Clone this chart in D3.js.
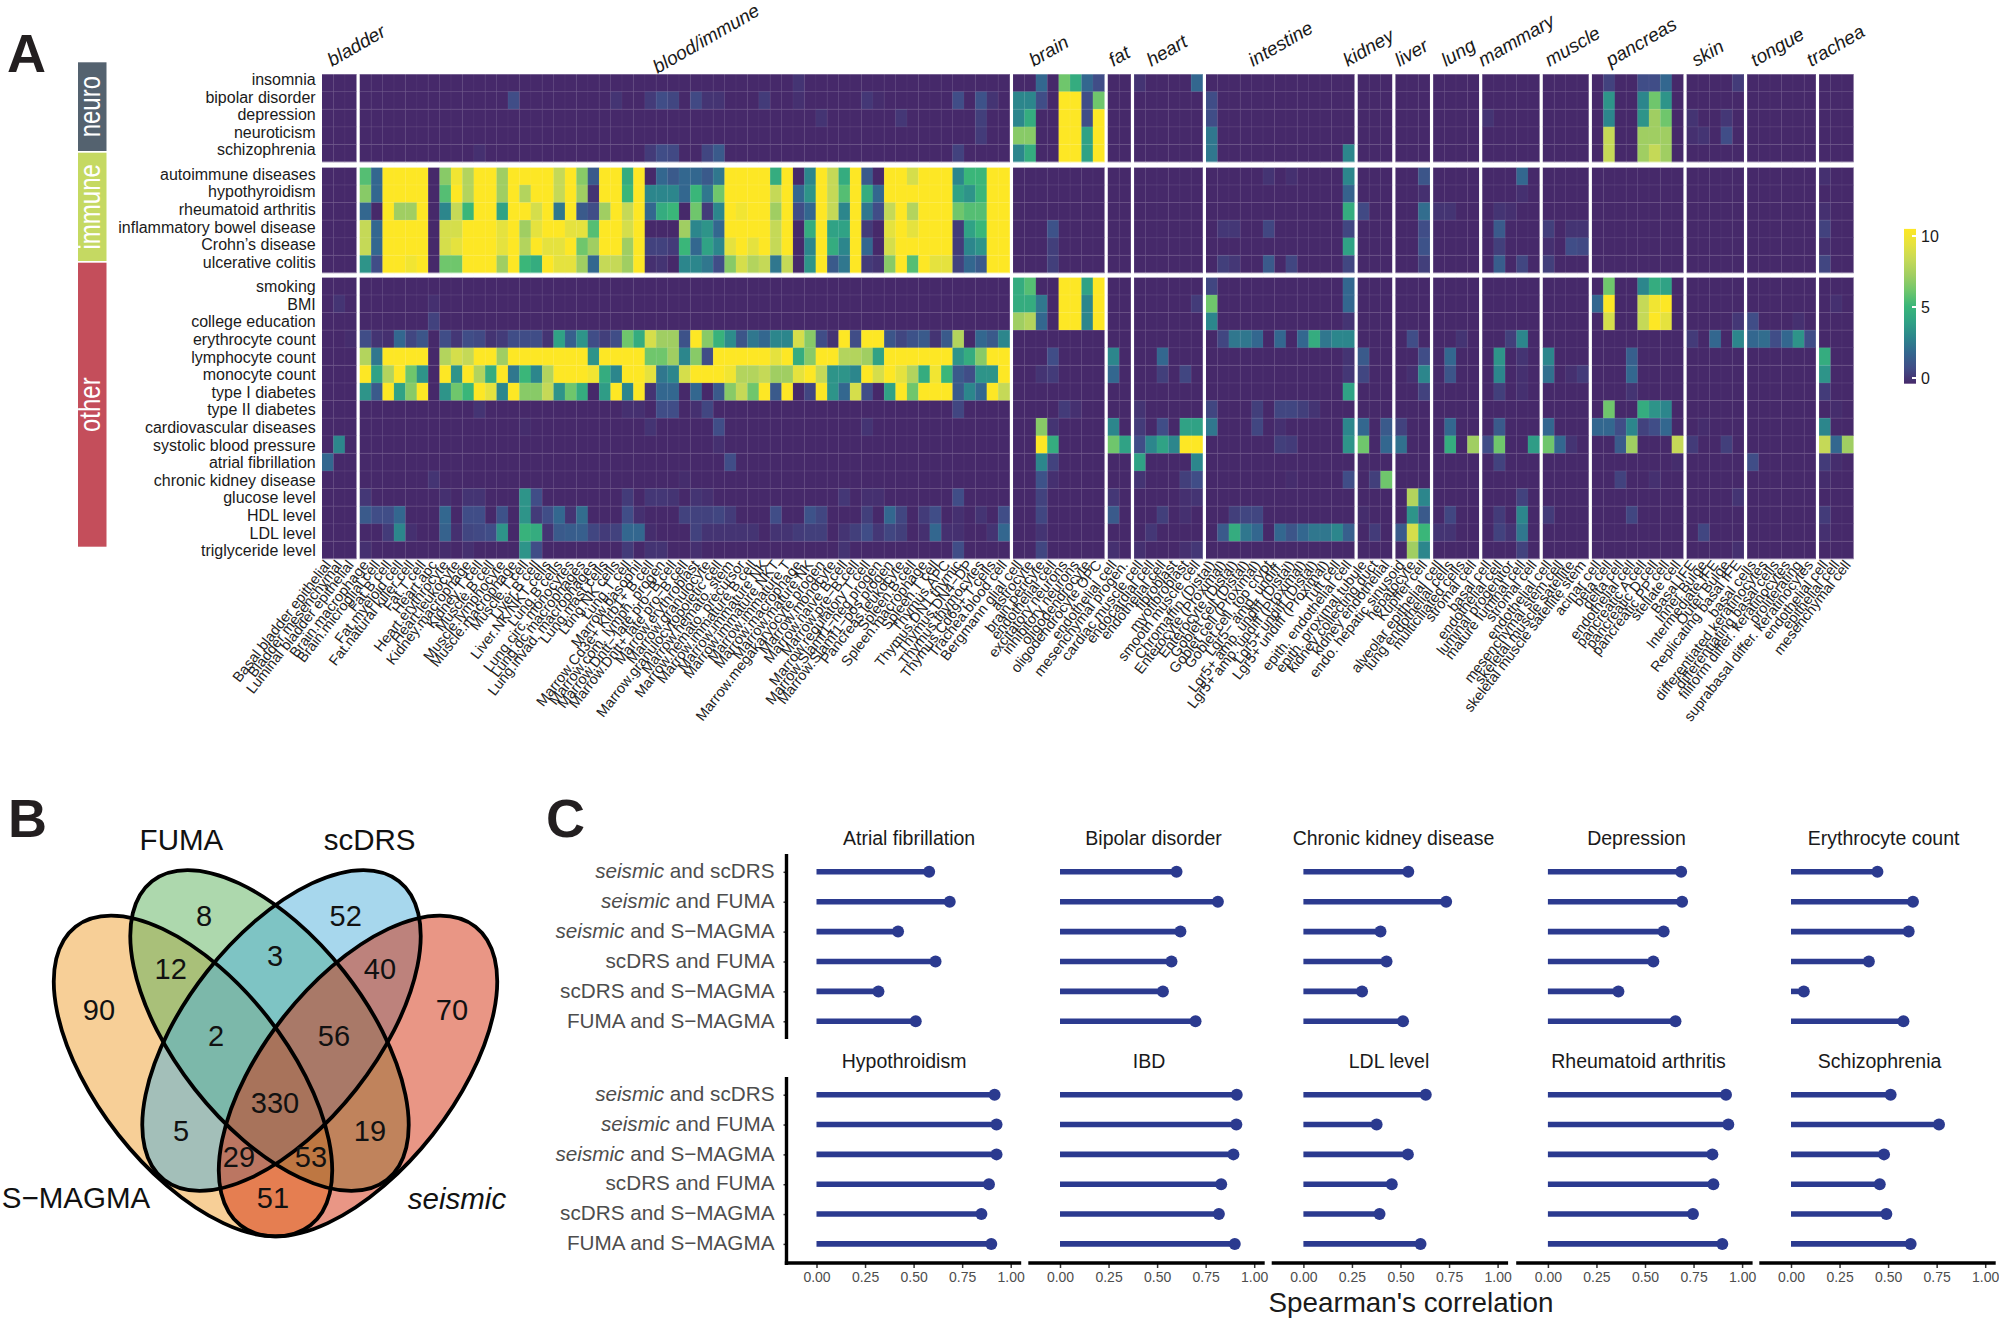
<!DOCTYPE html>
<html><head><meta charset="utf-8">
<script src="https://cdn.jsdelivr.net/npm/d3@7/dist/d3.min.js"></script>
<style>html,body{margin:0;padding:0;background:#fff}svg{display:block}text{font-family:"Liberation Sans",Arial,sans-serif}</style>
</head><body><svg id="c" width="1999" height="1318"></svg>
<script>
// ---------- Panel A data ----------
const tissues=["bladder","blood/immune","brain","fat","heart","intestine","kidney","liver","lung","mammary","muscle","pancreas","skin","tongue","trachea"];
const tissueLabelOffset=[-7,-27,-25,-6,-17,-27,-27,-13,-10,-28,-16,-27,-19,-26,-25];
const tissueLabelBase=[67,74,67,67,67,67,67,67,67,67,67,67,67,67,67];
const cellBladder=["Basal bladder epithelial","Bladder mesenchymal","Luminal bladder epithelial"];
const cellBlood=["Brain.macrophage","Brain.microglial cell","Fat.B cell","Fat.myeloid cell","Fat.natural killer cell","Fat.T cell","Heart.apc","Heart.erythrocyte","Heart.leukocyte","Kidney.macrophage","Kidney.T cell","Muscle.B cell","Muscle.lymphocyte","Muscle.macrophage","Muscle.T cell","Liver.B cell","Liver.NK/NKT cells","Lung.B cells","Lung.circ. monocytes","Lung.dc macrophages","Lung.invad. macrophages","Lung.mast cells","Lung.NK cells","Lung.T cell","Marrow.basophil","Marrow.Cd3e+ Klrb1+ B cell","Marrow.com. lymph. progen","Marrow.Dntt− late pro−B cell","Marrow.Dntt+ late pro−B cell","Marrow.erythroblast","Marrow.granulocyte","Marrow.granulocytopoietic cell","Marrow.hemato. stem","Marrow.hemato. precursor","Marrow.immature B cell","Marrow.immature NK","Marrow.immature NKT","Marrow.immature T","Marrow.macrophage","Marrow.mature NK","Marrow.megakaryocyte progen","Marrow.monocyte","Marrow.naive B cell","Marrow.pre−B cell","Marrow.regulatory T cell","Marrow.Slamf1−neg progen","Marrow.Slamf1−pos progen","Pancreas.leukocyte","Spleen.B cell","Spleen.macrophage","Spleen.T cell","Thymus.APC","Thymus.DN1 thymic","Thymus.DN4−DP","Thymus.thymocytes","Thymus.Cd69+ T cells","Trachea.blood cell"];
const cellBrain=["Bergmann glial cell","astrocyte","brain pericyte","endothelial cell","excitatory neurons","inhibitory neurons","oligodendrocyte","oligodendrocyte OPC"];
const cellFat=["endothelial cell","mesenchymal progen."];
const cellHeart=["cardiac muscle cell","endocardial cell","endothelial cell","fibroblast","myofibroblast","smooth muscle cell"];
const cellIntestine=["Chromaffin (Distal)","Enterocyte (Proximal)","Enterocyte (Distal)","Goblet cell (Distal)","Goblet cell (Proximal)","Goblet cell, top crypt","Lgr5− amp. undiff.","Lgr5+ amp. undiff (Distal)","Lgr5+ amp. undiff (Proximal)","Lgr5+ undiff (Distal)","Lgr5+ undiff (Proximal)","Tuft cell","epith. endothelial cell"];
const cellKidney=["epith. proximal tubule","kidney collecting duct","kidney endothelial"];
const cellLiver=["endo. hepatic sinusoid","hepatocyte","Kupffer cell"];
const cellLung=["alveolar epithelial cell","lung endothelial cells","multiciliated cells","stromal cell"];
const cellMammary=["basal cell","endothelial cell","luminal progenitor","mature luminal cell","stromal cell"];
const cellMuscle=["endothelial cell","mesenchymal stem cell","skeletal muscle satellite","skeletal muscle satellite stem"];
const cellPancreas=["acinar cell","beta cell","delta cell","endothelial cell","pancreatic A cell","pancreatic D cell","pancreatic PP cell","stellate cell"];
const cellSkin=["Basal IFE","Inner Bulge","Intermediate IFE","Outer Bulge","Replicating basal IFE"];
const cellTongue=["basal cells","differentiated keratinocytes","differentiating basal cells","filiform differ. keratinocytes","proliferating","suprabasal differ. keratinocytes"];
const cellTrachea=["endothelial cell","epithelial cell","mesenchymal cell"];
const cellGroups=[cellBladder,cellBlood,cellBrain,cellFat,cellHeart,cellIntestine,cellKidney,cellLiver,cellLung,cellMammary,cellMuscle,cellPancreas,cellSkin,cellTongue,cellTrachea];

const traitGroups=["neuro","immune","other"];
const traitsNeuro=["insomnia","bipolar disorder","depression","neuroticism","schizophrenia"];
const traitsImmune=["autoimmune diseases","hypothyroidism","rheumatoid arthritis","inflammatory bowel disease","Crohn’s disease","ulcerative colitis"];
const traitsOther=["smoking","BMI ","college education","erythrocyte count","lymphocyte count","monocyte count","type I diabetes","type II diabetes","cardiovascular diseases","systolic blood pressure","atrial fibrillation","chronic kidney disease","glucose level","HDL level","LDL level","triglyceride level"];

// each row: bladder, blood, brain, fat, heart, intestine, kidney, liver, lung, mammary, muscle, pancreas, skin, tongue, trachea
const insomnia=[[0,0,0],
[0,0,0,0,0,0,0,0,0,0, 0,0,0,0,0,0,0,0,0,0, 0,0,0,0,0,0,0,0,0,0, 0,0,0,0,0,0,0,0,.3,0, 0,0,0,0,0,0,0,0,0,0, 0,0,0,0,0,0,0],
[0,0,2,0,6,4.5,2,1],[0,0],[.3,0,0,0,0,2],[0,0,0,0,0,0,0,0,0,0,0,0,0],[0,0,0],[0,0,0],[0,0,0,0],[0,0,0,0,0],[0,0,0,0],[0,.7,0,0,1,1,2,0],[0,0,0,0,.5],[0,0,0,0,0,0],[0,0,0]];
const bipolar=[[0,0,0],
[0,0,0,0,0,0,0,0,0,0, 0,0,0,1,0,0,0,0,0,0, 0,0,.3,0,0,.5,1,.8,0,.9, .3,.3,0,0,0,.5,0,0,.2,0, 0,0,0,0,.4,.1,0,0,0,0, 0,0,1,0,1.2,.3,0],
[3,3,1,0,10,10,1,6],[0,0],[0,0,0,0,0,0],[1,0,0,0,0,0,0,0,0,0,0,0,0],[0,0,0],[0,0,0],[0,0,0,0],[0,0,0,0,0],[0,0,0,0],[0,3.5,0,0,3,6,3.5,0],[0,0,0,0,0],[0,0,0,0,0,0],[0,0,0]];
const depression=[[0,0,0],
[0,0,0,0,0,0,0,0,0,0, 0,0,0,0,0,0,0,0,0,0, 0,0,0,0,0,0,0,0,0,0, 0,0,0,0,0,0,0,0,0,0, .3,0,0,0,0,0,0,.4,0,0, 0,0,0,0,.6,0,0],
[3,4.5,0,0,10,10,1,10],[0,0],[0,0,0,0,0,0],[1,0,0,0,0,0,0,0,0,0,0,0,0],[0,0,0],[0,0,0],[0,0,0,0],[.3,0,0,0,0],[0,0,0,0],[0,3,0,0,3.5,7,6,0],[.3,0,0,.4,0],[0,0,0,0,0,0],[0,0,0]];
const neuroticism=[[0,0,0],
[0,0,0,0,0,0,0,0,0,0, 0,0,0,0,0,0,0,0,0,0, 0,0,0,0,0,0,0,0,0,0, 0,0,0,0,0,0,0,0,0,0, 0,0,0,0,0,0,0,0,0,0, 0,0,0,0,.5,0,0],
[6.5,6.5,0,0,10,10,4,10],[0,0],[0,0,0,0,0,0],[2.5,0,0,0,0,0,0,0,0,0,0,0,0],[0,0,0],[0,0,0],[0,0,0,0],[0,0,0,0,0],[0,0,0,0],[0,8,0,0,7,7,7,0],[.2,.3,0,1,0],[0,0,0,0,0,0],[0,0,0]];
const schizophrenia=[[0,0,0],
[0,0,0,0,0,0,0,0,0,0, .2,0,0,0,0,0,0,0,0,0, 0,0,0,0,0,.5,1,.9,0,0, .8,1.5,0,0,0,0,0,0,0,0, 0,0,0,0,0,0,0,0,0,0, 0,0,.7,0,0,0,0],
[3,4.5,0,0,10,10,4,10],[0,0],[0,0,0,0,0,0],[2.5,0,0,0,0,0,0,0,0,0,0,0,3],[0,0,0],[0,0,0],[0,0,0,0],[0,0,0,0,0],[0,0,0,0],[0,8,0,0,7,8,7,0],[0,0,0,0,0],[0,0,0,0,0,0],[0,0,0]];
const autoimmune=[[0,0,0],
[5.5,2,10,10,10,10,0,6.5,9.5,7.5, 10,10,7,10,10,10,10,8,10,6.5, 1.5,10,10,4.5,10,0,2,1.5,2,2, 1.5,2.5,10,10,10,10,4.5,10,0,3, 10,8,4.5,10,1.5,0,10,10,8.5,10, 10,10,3,5,5,10,10],
[0,0,0,0,0,0,0,0],[0,0],[0,0,0,0,0,0],[0,0,0,0,0,.3,0,.2,0,0,0,0,3],[0,0,0],[0,0,1.3],[0,0,0,0],[0,0,0,2,0],[0,0,0,0],[0,0,0,0,0,0,0,0],[0,0,0,0,0],[0,0,0,0,0,0],[.2,0,0]];
const hypothyroidism=[[0,0,0],
[6.5,2,10,10,10,10,0,5.5,10,7.5, 10,10,7,10,7.5,10,10,8,10,7, .3,10,10,5,10,3,3,3,2,5, 2.5,6,10,10,10,10,8,10,2,3.5, 10,8,5.5,10,4.5,2,10,10,10,10, 10,10,4,3.5,5,10,10],
[0,0,0,0,0,0,0,0],[0,0],[0,0,0,0,0,0],[0,0,0,0,0,0,0,0,0,0,0,0,1.8],[0,0,0],[0,0,.2],[0,0,0,0],[0,0,0,.2,0],[0,0,0,0],[0,0,0,0,0,0,0,0],[0,0,0,0,0],[0,0,0,0,0,0],[0,0,0]];
const rheumatoid=[[0,0,0],
[2,0,10,7,7,10,0,3,8,5, 10,10,4,10,10,8.5,10,2.5,10,1.5, 1,7,10,8,10,2,4.5,5,0,6, .5,3,10,9.5,10,10,7,10,1,2, 10,8,3,10,2.5,1,8,10,7.5,10, 10,10,6,5.5,5.5,10,10],
[0,0,0,0,0,0,0,0],[0,0],[0,0,0,0,0,0],[0,0,0,0,0,0,0,0,0,0,0,0,4.5],[.9,0,0],[0,0,2.2],[.3,.3,0,0],[0,.3,.2,0,0],[0,0,0,0],[0,0,0,0,0,0,0,0],[0,0,0,0,0],[0,0,0,0,0,0],[.2,0,0]];
const ibd=[[0,0,0],
[8,2,10,10,10,10,0,8.5,8.5,10, 10,10,9,10,7,9,10,10,9,9, 5.5,10,10,8.5,10,0,0,0,7,3, 3.5,2,10,10,10,10,8,10,0,4.5, 10,4,4,10,.5,0,9,10,9,10, 10,10,.5,4,5,10,10],
[0,0,0,1.2,0,0,0,0],[0,0],[0,0,0,0,0,0],[0,.4,.4,0,0,.8,0,0,0,0,0,0,.8],[0,0,0],[0,0,1],[0,0,0,0],[0,1.5,0,0,0],[.6,0,.3,.3],[0,0,0,0,0,0,0,0],[0,0,0,0,0],[0,0,0,0,0,0],[.7,0,0]];
const crohn=[[0,0,0],
[8,2,10,10,10,10,0,8.5,9,10, 10,10,9,10,7.5,10,9,9,10,6, 7,10,10,7,10,.7,.7,.5,5,2, 4,3,9,10,9,10,8,10,0,3, 10,4.5,3,10,2,0,8.5,10,10,10, 10,10,.5,3,3.5,10,10],
[0,0,0,.6,0,0,0,0],[0,0],[0,0,0,0,0,0],[0,0,0,0,0,0,0,0,0,0,0,0,4],[0,0,0],[0,0,1.2],[0,0,0,0],[0,.6,0,0,0],[.2,0,1,.9],[0,0,0,0,0,0,0,0],[0,0,0,0,0],[0,0,0,0,0,0],[.2,0,0]];
const ulcerative=[[0,0,0],
[3.5,1,10,10,9.5,10,0,6,6,10, 10,10,7,10,5,4.5,10,9,9,7, 2,8,8,7,10,.2,.3,0,3,3, 2.5,1,6.5,8.5,7.5,8,2.5,8,0,3.5, 10,1.5,2.5,10,.5,.3,6.5,10,5.5,10, 9,9,.7,2,1.5,10,10],
[0,0,0,.6,0,0,0,0],[0,0],[0,0,0,0,0,0],[0,.6,.4,0,0,1.5,0,.8,0,0,0,0,.8],[0,0,0],[0,0,.6],[0,0,0,0],[0,1.6,0,.8,0],[.6,0,0,0],[0,0,0,0,0,0,0,0],[0,0,0,0,0],[0,0,0,0,0,0],[.8,0,0]];
const smoking=[[0,0,0],
[0,0,0,0,0,0,0,0,0,0, 0,0,0,0,0,0,0,0,0,0, 0,0,0,0,0,0,0,0,0,0, 0,0,0,0,0,0,0,0,0,0, 0,0,0,0,0,0,0,0,0,0, 0,0,0,0,0,0,0],
[4.5,5.5,0,0,10,10,4,10],[0,0],[0,0,0,0,0,0],[.8,0,0,0,0,0,0,0,0,0,0,0,2],[0,0,0],[0,0,0],[0,0,0,0],[0,0,0,0,0],[0,0,0,0],[0,6,0,0,3,4.5,4,0],[0,0,0,0,0],[0,0,0,0,0,0],[0,0,0]];
const bmi=[[0,.3,0],
[0,0,0,0,0,0,.2,0,0,0, 0,0,0,0,0,0,0,0,0,0, 0,0,0,0,0,0,0,0,0,0, 0,0,0,0,0,0,0,0,0,0, 0,0,0,0,0,0,0,0,0,0, 0,0,0,0,0,0,0],
[4.5,4.5,2.5,0,10,10,3,10],[0,0],[0,0,0,0,0,.5],[6,0,0,0,0,0,0,0,0,0,0,0,2],[0,0,0],[0,0,0],[0,0,0,0],[0,0,0,0,0],[0,0,0,0],[2,10,0,0,8,9.5,10,0],[0,0,0,0,0],[0,0,0,0,0,0],[0,.2,0]];
const college=[[0,0,0],
[0,0,0,0,0,0,.7,0,0,0, 0,0,0,0,0,0,0,0,0,0, 0,0,0,0,0,0,0,0,0,0, 0,0,0,0,0,0,0,0,0,0, 0,0,0,0,0,0,0,0,0,0, 0,0,0,0,0,0,0],
[7,7.5,2,0,10,10,3,10],[0,0],[0,0,0,0,0,0],[3,0,0,0,0,0,0,0,0,0,0,0,.3],[0,0,0],[0,0,0],[0,0,0,0],[0,0,0,0,0],[0,0,0,0],[0,8.5,0,0,8,10,9,0],[0,0,0,0,.4],[1,0,0,0,.2,0],[0,0,0]];
const erythrocyte=[[0,0,.1],
[1,.3,.2,2,.8,1.3,0,1,.4,1, .9,.3,.5,1,1,1,.3,4,1.7,3.5, 1,.6,1,6,4.5,8.5,7,7,1.2,10, 6.5,4.8,3.2,1.3,2.5,2,3,3,8.5,6.5, 1,.3,10,1,10,10,1.3,.8,1.2,1.5, .3,1.5,7.5,0,2,1.5,3],
[0,0,0,0,0,0,0,0],[0,0],[0,0,0,0,0,0],[0,.8,2.5,2.5,2,0,2,0,2,4.5,2.5,3,3],[0,0,0],[0,1,0],[0,0,.3,0],[0,0,.6,3,0],[0,0,0,0],[0,0,0,0,0,0,0,0],[.5,0,2,0,3],[2,2.2,1,2,3.5,1],[0,0,0]];
const lymphocyte=[[0,0,0],
[7.5,2.5,10,10,10,10,0,7.5,8.5,8, 10,10,7,10,10,10,10,10,10,10, 3.5,10,10,10,10,6,6,7,3,6.5, 1,10,10,10,10,10,9,10,4.5,6.5, 10,10,7.5,7.5,7,4,10,10,10,10, 10,10,3.5,4.5,6.5,10,10],
[0,0,0,1,0,0,0,0],[3,0],[0,0,2,0,0,0],[0,0,0,0,0,0,0,0,0,0,0,0,.3],[1.5,0,0],[0,0,1],[0,2,0,0],[0,3.5,0,.3,0],[3,0,0,0],[0,0,0,1.7,0,0,0,0],[0,0,0,0,0],[0,0,0,0,0,0],[4.5,0,0]];
const monocyte=[[0,0,0],
[10,4,7.5,10,6,3.5,0,10,3.5,10, 7.5,4.5,10,2.5,5,3,7.5,10,10,10, 9.5,4.5,3,10,10,9,2.5,3,8.5,10, 10,10,9.5,7.5,7.5,8,7,7,9,10, 8,3.5,3.5,3,10,8.5,10,9,7.5,4.5, 9.5,5,1.5,1,3.5,3.5,10],
[0,0,.3,.5,0,0,0,0],[2,0],[0,0,.6,0,.8,0],[0,0,0,0,0,0,0,0,0,0,0,0,.4],[.8,0,0],[0,.2,3],[0,1.3,0,0],[0,3,0,.2,0],[2.3,0,.2,.5],[0,0,0,2,0,0,0,0],[0,0,0,0,0],[0,0,0,0,0,0],[3.5,0,0]];
const type1=[[0,0,0],
[3.5,1.5,10,4,6.5,10,0,3.5,6,5, 10,9,3,10,6.5,6.5,8,3.5,6,4.5, 0,3.8,10,3,10,.3,2,2,0,2, 0,1.5,6.5,8,6,10,1.5,10,0,.8, 10,3.5,2,8.5,1,0,4,10,6,10, 10,10,1.5,3,2,10,8],
[0,0,0,0,0,0,0,0],[0,0],[0,0,0,0,0,0],[0,0,0,0,0,0,0,0,0,0,0,0,4],[0,0,0],[0,0,.7],[0,0,0,0],[0,.6,0,.2,0],[0,0,0,0],[0,0,0,.3,0,0,0,0],[0,0,0,0,0],[0,0,0,0,0,0],[.5,0,0]];
const type2=[[0,0,0],
[0,0,0,0,0,0,0,0,0,0, .3,0,0,0,0,0,0,0,0,0, 0,0,0,.2,.2,0,1,1,0,.2, .8,0,0,0,0,0,0,0,0,0, 0,0,0,0,0,0,0,0,0,0, 0,0,.8,0,0,0,0],
[0,0,0,0,.5,.2,0,0],[0,0],[.3,0,0,0,0,0],[.8,0,0,0,.6,0,.8,.8,.6,.3,0,0,0],[0,0,0],[0,0,0],[0,0,0,0],[0,0,0,0,0],[0,0,0,0],[0,6,0,0,4.5,3.5,3,0],[0,0,0,0,0],[0,0,0,0,0,0],[0,.1,0]];
const cardiovascular=[[0,0,0],
[0,0,0,0,0,0,0,0,0,0, 0,0,0,0,.1,0,0,0,0,0, 0,0,0,0,0,.3,0,0,0,0, 0,1,0,0,0,0,0,0,0,0, 0,0,0,0,.3,0,0,0,0,0, 0,0,0,0,0,0,0],
[0,0,6.5,.3,0,0,0,0],[3,0],[.5,0,1,0,4,4],[2.5,0,0,0,.8,0,.2,0,0,0,0,0,3],[2,0,1.5],[.7,0,0],[0,2,0,0],[0,1.5,0,0,0],[2,0,0,0],[2,2,1,3,.7,1,2,0],[0,.1,0,0,0],[0,0,0,0,0,0],[3,0,0]];
const systolic=[[0,3,0],
[0,0,0,0,0,0,0,0,0,0, 0,0,0,0,0,0,0,0,0,0, 0,0,0,0,0,0,0,0,0,0, 0,.2,0,0,0,0,0,0,0,0, 0,0,0,0,0,0,0,0,0,0, 0,0,0,0,0,0,0],
[0,0,10,4.5,0,0,0,0],[6,4],[1,3,4,3,10,10],[0,0,0,0,0,0,.6,.5,0,0,0,0,3.5],[6,0,2],[2.3,0,0],[0,4.5,0,7],[1,6,0,0,3.8],[6,2,.3,0],[0,0,1.5,7,0,0,0,8],[.5,0,0,.6,0],[0,0,0,0,0,0],[8,2,7]];
const atrial=[[2,0,0],
[0,0,0,0,0,0,0,0,0,0, 0,0,0,0,0,0,0,0,0,0, 0,0,0,0,0,0,0,0,0,0, 0,0,1,0,0,0,0,0,0,0, 0,0,0,0,0,0,0,0,0,0, 0,0,0,0,0,0,0],
[0,0,3,.7,0,0,0,0],[0,0],[4,0,0,0,0,3],[0,0,0,0,0,0,0,0,0,0,0,0,0],[0,0,0],[0,0,0],[0,0,0,0],[0,.7,0,0,0],[0,0,0,0],[0,0,0,0,0,0,0,.1],[0,0,0,0,0],[1,0,0,0,0,0],[.5,.1,0]];
const ckd=[[0,0,0],
[0,0,0,0,0,0,.3,0,0,0, 0,0,0,0,0,0,0,0,0,0, 0,0,0,0,0,0,0,0,.1,0, 0,0,0,0,0,0,0,0,0,0, 0,0,0,0,0,0,0,0,0,0, 0,0,0,0,0,0,0],
[0,0,1.2,.2,0,0,0,0],[0,0],[.3,0,0,0,.6,1],[0,0,0,0,0,0,0,.1,0,0,0,0,1],[0,.6,6],[0,0,0],[0,0,0,0],[0,0,0,0,0],[0,0,0,0],[0,0,.7,0,0,.2,0,0],[0,0,0,0,0],[0,0,0,0,0,0],[.1,0,0]];
const glucose=[[0,0,0],
[.4,0,0,0,0,0,0,.2,0,.3, .3,0,0,0,3.5,1,0,0,0,0, 0,0,0,.5,0,.4,.4,.3,0,.3, .2,0,0,0,0,0,0,0,0,0, 0,0,.4,0,.2,.2,0,0,0,0, 0,0,1,0,0,0,0],
[0,0,.7,0,0,0,0,0],[.4,0],[0,0,0,0,.2,.3],[0,0,0,0,0,0,0,0,0,0,0,0,0],[0,0,0],[0,7.5,3],[0,0,0,0],[0,0,0,.7,0],[0,0,0,0],[0,0,0,0,0,0,0,0],[0,0,0,0,.3],[0,0,0,0,0,0],[0,0,0]];
const hdl=[[0,0,0],
[1.5,1,1,2,0,0,0,2,0,1, 1,0,1.2,0,3.5,.5,1,2,.3,2.2, 0,0,0,1,.2,0,0,0,.7,.7, .7,.8,.5,0,0,0,1,0,0,1.2, .8,0,0,0,.6,0,2,.8,0,.5, 1,0,.2,0,.3,0,1],
[0,0,.8,0,0,0,0,0],[1.5,0],[0,0,.6,0,.2,0],[0,0,.6,.8,.8,0,0,0,0,0,0,0,0],[.1,0,0],[0,3.5,1.5],[0,.8,0,0],[0,.5,0,3,0],[.5,0,0,0],[0,0,0,.8,0,0,0,0],[0,0,0,0,0],[0,0,0,0,0,0],[.5,0,0]];
const ldl=[[0,0,0],
[0,0,.5,3,.2,0,0,1.8,.2,.8, .9,1,3.5,0,4.8,4.5,.3,1.5,1.6,1.7, .8,.5,.7,2,2,.1,0,0,0,.7, .3,.3,.3,.3,.3,0,.3,.3,.5,.6, .6,0,.3,.6,1,.4,.8,.6,0,.2, 2,.2,.2,0,0,.3,2],
[0,0,.3,0,0,0,0,0],[0,0],[0,.4,0,0,0,0],[0,1.5,4.5,2.5,2,0,2,1.3,2,2.5,2.5,3,1.7],[0,.5,0],[1.5,8.5,5],[.3,.3,0,0],[0,.7,.3,2.5,0],[0,0,0,0],[0,0,0,0,0,0,0,0],[0,.8,0,0,0],[0,0,0,0,0,0],[.2,0,0]];
const triglyceride=[[0,0,0],
[.2,0,0,0,0,0,0,.1,0,.2, 0,0,0,0,3.5,1,0,0,0,0, 0,0,0,.5,0,.3,.3,0,0,.2, 0,0,0,0,0,0,0,0,0,0, 0,0,.3,0,0,0,0,0,0,0, 0,0,1,0,0,0,0],
[0,0,.8,0,0,0,0,0],[.2,0],[.2,0,0,0,.2,.4],[0,0,0,0,0,0,0,0,0,0,0,0,0],[0,0,0],[0,7,3],[0,0,0,0],[0,0,0,.7,0],[0,0,0,0],[0,0,0,0,0,0,0,0],[0,0,0,0,.2],[0,0,0,0,0,0],[0,0,0]];
const rowsNeuro=[insomnia,bipolar,depression,neuroticism,schizophrenia];
const rowsImmune=[autoimmune,hypothyroidism,rheumatoid,ibd,crohn,ulcerative];
const rowsOther=[smoking,bmi,college,erythrocyte,lymphocyte,monocyte,type1,type2,cardiovascular,systolic,atrial,ckd,glucose,hdl,ldl,triglyceride];
const legendTicks=[0,5,10];

// ---------- Panel B data ----------
const vennSets=["S−MAGMA","FUMA","scDRS","seismic"];
const vennCounts=[90,8,52,12,3,40,70,2,56,330,5,19,29,53,51];

// ---------- Panel C data ----------
const pairLabels=["seismic and scDRS","seismic and FUMA","seismic and S−MAGMA","scDRS and FUMA","scDRS and S−MAGMA","FUMA and S−MAGMA"];
const facetTitles=["Atrial fibrillation","Bipolar disorder","Chronic kidney disease","Depression","Erythrocyte count","Hypothroidism","IBD","LDL level","Rheumatoid arthritis","Schizophrenia"];
const rhoAtrial=[.58,.686,.42,.613,.319,.511];
const rhoBipolar=[.60,.813,.62,.574,.53,.698];
const rhoCKD=[.54,.735,.397,.428,.302,.513];
const rhoDepression=[.686,.691,.596,.543,.363,.657];
const rhoErythrocyte=[.445,.628,.606,.401,.066,.579];
const rhoHypothyroid=[.917,.927,.927,.888,.849,.90];
const rhoIBD=[.91,.908,.893,.83,.818,.90];
const rhoLDL=[.63,.377,.538,.455,.392,.603];
const rhoRA=[.917,.929,.847,.852,.747,.898];
const rhoSchizo=[.513,.762,.479,.457,.491,.616];
const rhoAll=[rhoAtrial,rhoBipolar,rhoCKD,rhoDepression,rhoErythrocyte,rhoHypothyroid,rhoIBD,rhoLDL,rhoRA,rhoSchizo];
const xTicks=[0,.25,.5,.75,1];

// ---------- Drawing ----------
const svg=d3.select("#c");
const font='"Liberation Sans",Arial,sans-serif';
const color=d3.scaleLinear().domain([0,1,2,3,4,5,6,7,8,9,10])
 .range(["#46296a","#404d87","#33678f","#2c868c","#30a285","#3ab679","#6fc66c","#a0ce62","#c5d957","#e5e23e","#fde725"]).clamp(true);

// panel letters
[["A",7,72],["B",8,837],["C",546,837]].forEach(d=>svg.append("text").attr("x",d[1]).attr("y",d[2]).attr("font-size",54).attr("font-weight","bold").attr("fill","#231f20").text(d[0]));

// Panel A
const colW=11.4, gapW=3.52, heatLeft=322, rowH=17.6;
const tissueSizes=cellGroups.map(g=>g.length);
const tissueStart=[0,...d3.cumsum(tissueSizes)];
const colScale=d3.scaleLinear().domain([0,130]).range([0,130*colW]);
const tissueX=(t,i)=>heatLeft+colScale(tissueStart[t]+i)+t*gapW;
const groupsA=[
 {name:traitGroups[0],traits:traitsNeuro,rows:rowsNeuro,y0:74,lab:-3.5,bar:[62.3,151],fill:"#54626f"},
 {name:traitGroups[1],traits:traitsImmune,rows:rowsImmune,y0:167.3,lab:-2,bar:[152.7,261],fill:"#c5d962"},
 {name:traitGroups[2],traits:traitsOther,rows:rowsOther,y0:277.3,lab:.5,bar:[262.7,546.7],fill:"#c44e5b"}];
const A=svg.append("g");
groupsA.forEach(G=>{
 const yS=d3.scaleBand().domain(G.traits).range([G.y0,G.y0+rowH*G.traits.length]);
 A.append("rect").attr("x",78).attr("y",G.bar[0]).attr("width",28.5).attr("height",G.bar[1]-G.bar[0]).attr("fill",G.fill);
 const cy=(G.bar[0]+G.bar[1])/2;
 A.append("text").attr("transform",`translate(90.5,${cy}) rotate(-90) scale(1,1.2)`).attr("text-anchor","middle").attr("dy",".32em").attr("font-size",24).attr("fill","#fff").text(G.name);
 G.traits.forEach(t=>A.append("text").attr("x",315.7).attr("y",yS(t)+rowH/2+G.lab).attr("dy",".35em").attr("text-anchor","end").attr("font-size",16).attr("fill","#1a1a1a").text(t));
 G.rows.forEach((row,ri)=>{
  row.forEach((seg,t)=>{
   const g=A.append("g");
   g.selectAll("rect").data(seg).join("rect")
    .attr("x",(v,i)=>tissueX(t,i)).attr("y",yS(G.traits[ri]))
    .attr("width",colW+.3).attr("height",yS.bandwidth()+.3).attr("fill",v=>color(v));
  });
 });
 const bottom=G.y0+rowH*G.traits.length;
 tissueSizes.forEach((n,t)=>{
  const x0=tissueX(t,0), x1=tissueX(t,0)+n*colW;
  for(let r=1;r<G.traits.length;r++) A.append("line").attr("x1",x0).attr("x2",x1).attr("y1",G.y0+r*rowH).attr("y2",G.y0+r*rowH).attr("stroke","#fff").attr("stroke-opacity",.1).attr("stroke-width",1);
  for(let c=1;c<n;c++) A.append("line").attr("x1",tissueX(t,c)).attr("x2",tissueX(t,c)).attr("y1",G.y0).attr("y2",bottom).attr("stroke","#fff").attr("stroke-opacity",.05).attr("stroke-width",1);
  [G.y0,bottom].forEach(y=>A.append("line").attr("x1",x0).attr("x2",x1).attr("y1",y).attr("y2",y).attr("stroke","#fff").attr("stroke-opacity",.55).attr("stroke-width",1));
 });
});
// tissue labels + cell labels
tissues.forEach((name,t)=>{
 const n=tissueSizes[t];
 const cx=tissueX(t,0)+n*colW/2+tissueLabelOffset[t];
 A.append("text").attr("transform",`translate(${cx},${tissueLabelBase[t]}) rotate(-30)`).attr("font-size",19).attr("font-style","italic").attr("fill","#1a1a1a").text(name);
 cellGroups[t].forEach((c,i)=>{
  A.append("text").attr("transform",`translate(${tissueX(t,i)+colW/2},562) rotate(-52)`).attr("text-anchor","end").attr("dy",".35em").attr("font-size",14.5).attr("fill","#222").text(c);
 });
});
// legend
const defs=svg.append("defs");
const lg=defs.append("linearGradient").attr("id","lg").attr("x1",0).attr("y1",1).attr("x2",0).attr("y2",0);
d3.range(0,11).forEach(v=>lg.append("stop").attr("offset",`${v*10}%`).attr("stop-color",color(v)));
const legY=d3.scaleLinear().domain([0,10]).range([378,236]);
A.append("rect").attr("x",1904).attr("y",legY(10.5)).attr("width",12).attr("height",legY(-.4)-legY(10.5)).attr("fill","url(#lg)");
const legAxis=A.append("g").attr("transform","translate(1916,0)").call(d3.axisRight(legY).tickValues(legendTicks).tickSize(0).tickPadding(5));
legAxis.select(".domain").remove();
legAxis.selectAll("text").attr("font-size",16).attr("font-family",font).attr("fill","#1a1a1a");
legendTicks.forEach(v=>A.append("rect").attr("x",1912).attr("y",legY(v)-1).attr("width",4).attr("height",2).attr("fill","#fff"));

// Panel B
const ellA=190, ellB=95, ellRot=51.8;
const ellipses=[
 {cx:193,cy:1076,r:ellRot,fill:"#f0a030"},
 {cx:269.5,cy:1030.5,r:ellRot,fill:"#5cb25c"},
 {cx:281.5,cy:1030.5,r:-ellRot,fill:"#4fb0db"},
 {cx:358,cy:1076,r:-ellRot,fill:"#d32d0b"}];
const B=svg.append("g");
B.selectAll("ellipse.f").data(ellipses).join("ellipse").attr("class","f").attr("rx",ellA).attr("ry",ellB)
 .attr("transform",d=>`translate(${d.cx},${d.cy}) rotate(${d.r})`).attr("fill",d=>d.fill).attr("fill-opacity",.5);
B.selectAll("ellipse.s").data(ellipses).join("ellipse").attr("class","s").attr("rx",ellA).attr("ry",ellB)
 .attr("transform",d=>`translate(${d.cx},${d.cy}) rotate(${d.r})`).attr("fill","none").attr("stroke","#000").attr("stroke-width",3.8);
const vennPos=[[99,1010],[204,915.5],[345.7,915.5],[170.7,969],[275,955.7],[380,969],[452,1010],[216,1035.7],[334,1035.7],[275,1103],[181,1130.7],[370,1130.7],[239,1157],[311,1157],[273,1198]];
vennCounts.forEach((v,i)=>B.append("text").attr("x",vennPos[i][0]).attr("y",vennPos[i][1]).attr("dy",".35em").attr("text-anchor","middle").attr("font-size",29).attr("fill","#111").text(v));
const vennLabPos=[[76,1198],[181.4,840],[369.6,840],[457,1198.7]];
vennSets.forEach((s,i)=>B.append("text").attr("x",vennLabPos[i][0]).attr("y",vennLabPos[i][1]).attr("dy",".35em").attr("text-anchor","middle").attr("font-size",29.5).attr("font-style",s==="seismic"?"italic":"normal").attr("fill","#111").text(s));

// Panel C
const C=svg.append("g");
const facetX0=[816.5,1060,1303.4,1547.9,1791];
const rowRanges=[[871.8,1021.3],[1094.7,1243.9]];
const rowAxis=[[854,1039],[1077,1265]];
const titleY=[838,1061.4];
const stripDx=[5,6,2.5,1,5,0,1.5,-2,3,1];
rhoAll.forEach((vals,f)=>{
 const col=f%5, row=Math.floor(f/5);
 const x=d3.scaleLinear().domain([0,1]).range([facetX0[col],facetX0[col]+194.2]);
 const y=d3.scalePoint().domain(pairLabels).range(rowRanges[row]);
 const g=C.append("g");
 g.append("text").attr("x",(x(0)-30+x(1)+11)/2+stripDx[f]).attr("y",titleY[row]).attr("dy",".35em").attr("text-anchor","middle").attr("font-size",19.5).attr("fill","#1a1a1a").text(facetTitles[f]);
 g.selectAll("line.s").data(vals).join("line").attr("class","s").attr("x1",x(0)).attr("x2",v=>x(v))
  .attr("y1",(v,i)=>y(pairLabels[i])).attr("y2",(v,i)=>y(pairLabels[i])).attr("stroke","#2b3a8f").attr("stroke-width",5.6);
 g.selectAll("circle").data(vals).join("circle").attr("cx",v=>x(v)).attr("cy",(v,i)=>y(pairLabels[i])).attr("r",6).attr("fill","#2b3a8f");
 if(col===0){
  const yAx=g.append("g").attr("transform",`translate(${x(0)-30},0)`).call(d3.axisLeft(y).tickSize(3).tickPadding(6).tickFormat(()=>""));
  yAx.select(".domain").remove(); yAx.selectAll("line").attr("stroke","#333").attr("stroke-width",1.5);
  g.append("line").attr("x1",x(0)-30).attr("x2",x(0)-30).attr("y1",rowAxis[row][0]).attr("y2",rowAxis[row][1]).attr("stroke","#000").attr("stroke-width",3.4);
  pairLabels.forEach(l=>{
   const t=g.append("text").attr("x",774.5).attr("y",y(l)-1).attr("dy",".35em").attr("text-anchor","end").attr("font-size",20.7).attr("fill","#4d4d4d");
   if(l.startsWith("seismic")){t.append("tspan").attr("font-style","italic").text("seismic");t.append("tspan").text(l.slice(7));}
   else t.text(l);
  });
 }
 if(row===1){
  const ax=g.append("g").attr("transform","translate(0,1263)").call(d3.axisBottom(x).tickValues(xTicks).tickFormat(d3.format(".2f")).tickSize(5).tickPadding(4));
  ax.select(".domain").remove(); ax.selectAll("line").attr("stroke","#333").attr("stroke-width",1.5);
  ax.selectAll("text").attr("font-size",14).attr("font-family",font).attr("fill","#4d4d4d");
  g.append("line").attr("x1",x(0)-31.7).attr("x2",x(1)+10.5).attr("y1",1263).attr("y2",1263).attr("stroke","#000").attr("stroke-width",3.7);
 }
});
C.append("text").attr("x",1411).attr("y",1312).attr("text-anchor","middle").attr("font-size",27.8).attr("fill","#1a1a1a").text("Spearman's correlation");
</script></body></html>
